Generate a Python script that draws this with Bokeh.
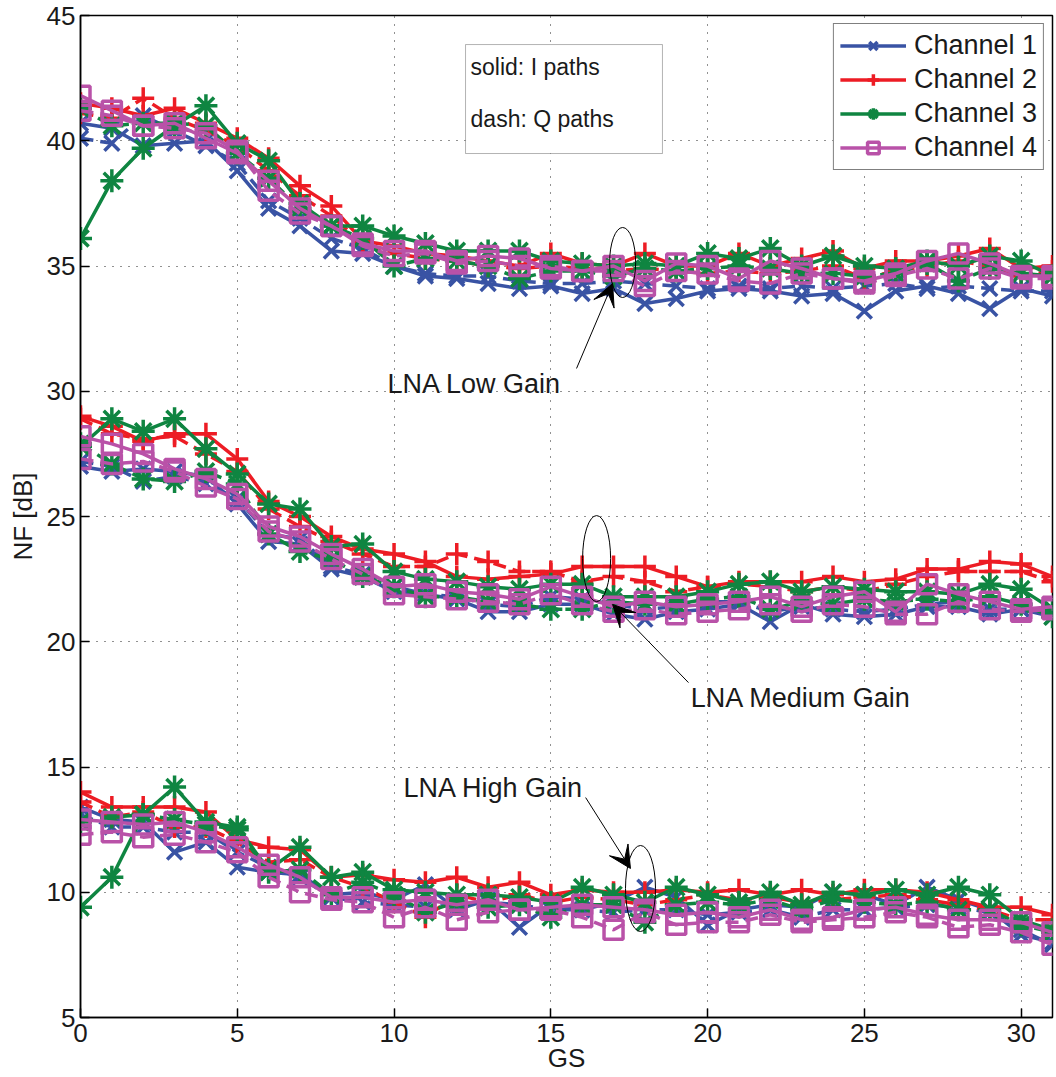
from bokeh.plotting import figure
from bokeh.models import (Range1d, SingleIntervalTicker, Legend, LegendItem,
                          BoxAnnotation, Label, Arrow, VeeHead, ColumnDataSource)
from bokeh.embed import file_html
from bokeh.resources import INLINE

GS = list(range(32))

# ---- LNA Low Gain ----
LOW_CH1_I = [40.7, 40.5, 39.8, 39.9, 40.0, 38.8, 37.3, 36.6, 35.6, 35.5, 35.0, 34.6, 34.5, 34.3, 34.1, 34.2, 33.9, 34.1, 33.5, 33.7, 34.0, 34.1, 34.0, 33.8, 33.9, 33.2, 34.0, 34.2, 33.9, 33.3, 34.1, 33.8]
LOW_CH1_Q = [40.1, 39.9, 41.0, 40.4, 39.8, 39.1, 37.6, 36.9, 36.1, 35.7, 35.0, 34.7, 34.6, 34.6, 34.4, 34.3, 34.3, 34.4, 34.3, 34.2, 34.1, 34.2, 34.1, 34.2, 34.1, 34.2, 34.3, 34.1, 34.2, 34.1, 34.0, 34.0]
LOW_CH2_I = [41.5, 41.3, 41.0, 41.3, 40.7, 40.1, 39.3, 38.2, 37.4, 36.0, 35.8, 35.5, 35.4, 35.2, 35.0, 35.5, 35.1, 35.0, 35.5, 35.0, 35.0, 35.5, 35.0, 35.3, 35.6, 34.9, 35.2, 35.2, 35.4, 35.7, 34.9, 35.0]
LOW_CH2_Q = [41.1, 40.9, 41.7, 40.9, 40.4, 39.8, 38.8, 37.8, 37.0, 35.9, 35.5, 35.3, 35.2, 35.0, 34.9, 35.0, 34.9, 34.8, 34.9, 34.8, 34.7, 34.8, 34.7, 34.8, 35.0, 34.5, 34.8, 35.0, 35.2, 35.0, 34.6, 34.8]
LOW_CH3_I = [36.1, 38.4, 39.7, 40.6, 41.4, 39.9, 39.2, 37.5, 36.6, 36.6, 36.2, 35.9, 35.6, 35.6, 35.6, 35.2, 35.1, 35.0, 35.1, 35.0, 35.5, 35.3, 35.7, 35.0, 35.4, 35.0, 34.9, 35.2, 35.0, 35.4, 35.2, 34.6]
LOW_CH3_Q = [41.3, 40.6, 40.7, 40.7, 40.6, 39.5, 38.5, 37.3, 36.6, 36.1, 35.0, 35.3, 35.2, 35.0, 34.5, 34.8, 34.8, 34.6, 34.9, 34.8, 34.9, 35.0, 34.9, 34.7, 34.7, 34.6, 34.7, 35.1, 34.4, 34.9, 34.7, 34.6]
LOW_CH4_I = [41.8, 41.2, 40.6, 40.7, 40.1, 39.5, 38.4, 37.3, 36.6, 35.9, 35.6, 35.6, 35.2, 35.4, 35.3, 34.9, 34.8, 35.0, 34.4, 35.1, 35.0, 34.5, 35.2, 34.9, 34.5, 34.4, 34.7, 35.2, 35.5, 35.1, 34.6, 34.6]
LOW_CH4_Q = [41.2, 41.0, 40.6, 40.5, 40.3, 39.6, 38.0, 37.1, 36.6, 35.8, 35.4, 35.5, 35.1, 35.2, 35.0, 35.0, 34.8, 34.8, 34.2, 34.8, 34.7, 34.4, 34.3, 34.7, 34.5, 34.3, 34.6, 34.9, 34.5, 34.9, 34.5, 34.5]

# ---- LNA Medium Gain ----
MED_CH1_I = [27.0, 26.8, 26.9, 26.8, 26.6, 25.5, 24.0, 23.9, 22.9, 22.6, 22.0, 21.9, 21.7, 21.2, 21.2, 21.5, 21.5, 21.1, 20.9, 21.2, 21.3, 21.5, 20.8, 21.5, 21.1, 21.0, 21.1, 21.4, 21.4, 21.1, 21.3, 21.0]
MED_CH1_Q = [27.2, 27.0, 26.4, 26.6, 26.3, 25.7, 24.3, 24.1, 23.0, 22.7, 22.2, 21.9, 21.8, 21.5, 21.4, 21.8, 21.7, 21.5, 21.3, 21.4, 21.6, 21.6, 21.2, 21.4, 21.3, 21.2, 21.3, 21.5, 21.6, 21.3, 21.3, 21.2]
MED_CH2_I = [29.0, 28.6, 28.0, 28.3, 28.3, 27.3, 25.6, 25.0, 24.2, 23.7, 23.5, 23.2, 22.6, 22.5, 22.6, 22.7, 23.0, 23.0, 23.0, 22.6, 22.2, 22.4, 22.4, 22.4, 22.6, 22.4, 22.5, 22.9, 22.9, 23.2, 23.1, 22.6]
MED_CH2_Q = [28.9, 28.3, 28.1, 28.2, 27.5, 26.8, 25.3, 24.6, 24.0, 23.5, 23.0, 23.0, 23.5, 23.2, 22.8, 22.8, 22.4, 22.6, 22.4, 22.0, 22.2, 22.3, 22.2, 22.0, 22.2, 22.0, 22.3, 22.6, 22.8, 22.8, 22.8, 22.4]
MED_CH3_I = [27.8, 28.9, 28.4, 28.9, 27.7, 26.7, 25.5, 25.3, 23.8, 23.9, 22.8, 22.5, 22.4, 22.2, 22.1, 22.3, 22.3, 21.8, 21.8, 21.8, 22.0, 22.3, 22.4, 22.0, 22.2, 22.1, 22.0, 22.0, 21.9, 22.3, 22.1, 21.3]
MED_CH3_Q = [27.9, 27.1, 26.5, 26.4, 26.8, 26.3, 24.3, 23.6, 23.3, 22.6, 22.2, 21.8, 21.8, 21.6, 21.5, 21.3, 21.3, 21.6, 21.5, 21.5, 21.7, 21.8, 21.3, 21.6, 21.5, 21.7, 21.6, 21.7, 21.6, 21.8, 21.5, 21.0]
MED_CH4_I = [28.2, 27.9, 27.5, 26.9, 26.5, 25.9, 24.6, 24.2, 23.5, 22.9, 22.2, 22.3, 22.0, 21.9, 21.7, 22.2, 21.8, 21.4, 21.6, 21.4, 21.5, 21.6, 21.8, 21.4, 21.8, 22.0, 21.2, 22.3, 21.9, 21.6, 21.3, 21.4]
MED_CH4_Q = [27.3, 27.1, 27.2, 26.8, 26.2, 25.7, 24.4, 24.0, 23.3, 22.7, 21.9, 21.8, 21.7, 21.6, 21.5, 21.9, 21.5, 21.2, 21.3, 21.1, 21.2, 21.3, 21.5, 21.2, 21.5, 21.4, 21.1, 21.1, 21.6, 21.3, 21.2, 21.3]

# ---- LNA High Gain ----
HIGH_CH1_I = [13.4, 12.9, 12.8, 11.6, 12.0, 11.0, 10.8, 10.7, 9.9, 10.0, 9.7, 10.3, 9.3, 9.7, 8.6, 9.5, 9.3, 9.6, 10.2, 9.8, 8.7, 9.3, 9.5, 9.4, 10.0, 9.9, 9.5, 10.2, 9.7, 9.3, 8.3, 8.0]
HIGH_CH1_Q = [13.1, 12.6, 12.6, 12.4, 12.4, 11.6, 11.0, 10.6, 9.8, 9.6, 9.5, 9.4, 9.5, 9.6, 9.5, 9.3, 9.3, 9.2, 9.3, 9.3, 9.1, 9.2, 9.3, 9.0, 9.3, 9.3, 9.4, 9.5, 9.4, 9.2, 8.5, 7.9]
HIGH_CH2_I = [14.0, 13.4, 13.4, 13.4, 13.2, 12.1, 11.8, 11.7, 10.6, 10.7, 10.5, 10.4, 10.6, 10.2, 10.4, 9.9, 10.1, 10.0, 10.0, 10.1, 10.0, 10.1, 9.9, 10.1, 9.9, 10.1, 10.1, 10.0, 9.7, 9.4, 9.4, 9.1]
HIGH_CH2_Q = [13.6, 13.0, 13.2, 12.6, 12.6, 12.0, 11.2, 11.3, 10.6, 10.2, 9.6, 9.0, 9.9, 9.6, 9.9, 9.6, 9.8, 9.7, 9.5, 9.7, 9.9, 9.7, 9.8, 9.6, 9.7, 9.8, 9.9, 9.7, 9.5, 9.3, 8.9, 8.9]
HIGH_CH3_I = [9.4, 10.6, 13.1, 14.2, 12.8, 12.6, 10.9, 11.8, 10.6, 10.8, 10.1, 10.0, 9.9, 9.9, 9.8, 9.6, 10.2, 9.9, 9.6, 10.2, 9.9, 9.6, 10.0, 9.5, 10.0, 9.9, 10.1, 9.9, 10.2, 9.9, 8.9, 8.5]
HIGH_CH3_Q = [12.8, 13.0, 13.1, 12.9, 12.7, 12.5, 10.8, 10.9, 9.9, 10.4, 9.9, 9.2, 9.6, 9.4, 9.5, 9.0, 9.5, 9.5, 8.8, 9.5, 9.6, 9.5, 9.7, 9.3, 9.7, 9.6, 9.5, 9.6, 9.3, 9.3, 8.7, 8.4]
HIGH_CH4_I = [12.9, 12.8, 12.7, 12.8, 12.4, 11.8, 11.1, 10.6, 9.8, 9.8, 9.6, 9.7, 9.5, 9.7, 9.3, 9.4, 9.5, 9.4, 9.3, 9.1, 9.2, 9.0, 9.3, 8.9, 9.0, 9.3, 9.4, 9.1, 8.9, 8.9, 8.8, 8.4]
HIGH_CH4_Q = [12.3, 12.4, 12.2, 12.3, 12.0, 11.6, 10.6, 10.0, 9.7, 9.6, 9.0, 9.4, 8.9, 9.2, 9.3, 9.3, 9.0, 8.5, 9.2, 8.7, 8.8, 8.8, 9.1, 8.8, 8.9, 9.0, 9.2, 9.0, 8.6, 8.7, 8.4, 7.9]

CHANNELS = ["Channel 1", "Channel 2", "Channel 3", "Channel 4"]
COLORS = ["#3953A4", "#ED1C24", "#0F8541", "#B952A8"]
MARKERS = ["x", "cross", "asterisk", "square"]
MSIZES = [21, 22, 23, 19]

FONT = "Liberation Sans"

p = figure(width=1056, height=1077, output_backend="svg", toolbar_location=None,
           x_range=Range1d(0, 31), y_range=Range1d(5, 45),
           min_border_left=80, min_border_right=4, min_border_top=15, min_border_bottom=60,
           x_axis_label="GS", y_axis_label="NF [dB]")
p.background_fill_color = "white"
p.border_fill_color = "white"
p.outline_line_color = "black"
p.outline_line_width = 1.5

def style_axis(ax, interval):
    ax.ticker = SingleIntervalTicker(interval=interval, num_minor_ticks=0)
    ax.axis_line_color = "black"
    ax.axis_line_width = 1.5
    ax.major_tick_line_color = "black"
    ax.major_tick_line_width = 1.5
    ax.major_tick_in = 9
    ax.major_tick_out = 0
    ax.minor_tick_line_color = None
    ax.major_label_text_font = FONT
    ax.major_label_text_color = "#1a1a1a"
    ax.major_label_text_font_size = "26px"
    ax.axis_label_text_font = FONT
    ax.axis_label_text_font_size = "26px"
    ax.axis_label_text_font_style = "normal"
    ax.axis_label_text_color = "#1a1a1a"

for ax in p.xaxis:
    style_axis(ax, 5)
    ax.major_label_standoff = 6
    ax.axis_label_standoff = -2
for ax in p.yaxis:
    style_axis(ax, 5)
    ax.major_label_standoff = 5
    ax.axis_label_standoff = 6

for g in (p.xgrid, p.ygrid):
    g.grid_line_color = "#222222"
    g.grid_line_dash = "1 7"
    g.grid_line_width = 1
p.xgrid.ticker = SingleIntervalTicker(interval=5)
p.ygrid.ticker = SingleIntervalTicker(interval=5)

SERIES = [
    [(LOW_CH1_I, LOW_CH1_Q), (MED_CH1_I, MED_CH1_Q), (HIGH_CH1_I, HIGH_CH1_Q)],
    [(LOW_CH2_I, LOW_CH2_Q), (MED_CH2_I, MED_CH2_Q), (HIGH_CH2_I, HIGH_CH2_Q)],
    [(LOW_CH3_I, LOW_CH3_Q), (MED_CH3_I, MED_CH3_Q), (HIGH_CH3_I, HIGH_CH3_Q)],
    [(LOW_CH4_I, LOW_CH4_Q), (MED_CH4_I, MED_CH4_Q), (HIGH_CH4_I, HIGH_CH4_Q)],
]

legend_items = []
for ci in range(4):
    col = COLORS[ci]
    first = None
    for gi, (vi, vq) in enumerate(SERIES[ci]):
        for vals, dash in ((vi, "solid"), (vq, "13 7")):
            src = ColumnDataSource(dict(x=GS, y=vals))
            lr = p.line("x", "y", source=src, line_color=col, line_width=3.5, line_dash=dash)
            sr = p.scatter("x", "y", source=src, marker=MARKERS[ci], size=MSIZES[ci],
                           line_color=col, line_width=3.5, fill_color=None)
            if first is None:
                first = [lr, sr]
    legend_items.append(LegendItem(label=CHANNELS[ci], renderers=first))

legend = Legend(items=legend_items, location="top_right")
legend.label_text_font = FONT
legend.label_text_font_size = "27px"
legend.label_text_color = "#1a1a1a"
legend.border_line_color = "black"
legend.border_line_width = 1.5
legend.background_fill_color = "white"
legend.background_fill_alpha = 1
legend.glyph_width = 66
legend.glyph_height = 29
legend.label_height = 29
legend.label_standoff = 8
legend.spacing = 3
legend.padding = 6
legend.margin = 8
p.add_layout(legend)

# Text box "solid: I paths / dash: Q paths"
p.add_layout(BoxAnnotation(left=12.28, right=18.56, top=43.84, bottom=39.49,
                           fill_color="white", fill_alpha=1, line_color="black", line_width=1))
for txt, yy in (("solid: I paths", 42.96), ("dash: Q paths", 40.85)):
    p.add_layout(Label(x=12.44, y=yy, text=txt, text_font=FONT, text_font_size="23px",
                       text_baseline="middle", text_align="left", text_color="#1a1a1a"))

# Annotations: labels, ellipses, arrows
for txt, xx, yy in (("LNA Low Gain", 9.79, 30.27), ("LNA Medium Gain", 19.46, 17.77),
                    ("LNA High Gain", 10.30, 14.18)):
    p.add_layout(Label(x=xx, y=yy, text=txt, text_font=FONT, text_font_size="27px",
                       text_baseline="middle", text_align="left", text_color="#1a1a1a"))

p.ellipse(x=[17.29, 16.46, 17.86], y=[35.14, 23.32, 10.15], width=[26, 28, 30], height=[70, 86, 86],
          width_units="screen", height_units="screen", fill_color=None, line_color="black", line_width=1)

for (xs, ys, xe, ye) in ((15.82, 30.91, 16.97, 34.30), (19.39, 18.37, 16.97, 21.49),
                         (16.11, 13.78, 17.54, 10.95)):
    p.add_layout(Arrow(x_start=xs, y_start=ys, x_end=xe, y_end=ye, line_color="black", line_width=1,
                       end=VeeHead(size=22, fill_color="black", line_color="black")))

open("out.html", "w").write(file_html(p, INLINE))
